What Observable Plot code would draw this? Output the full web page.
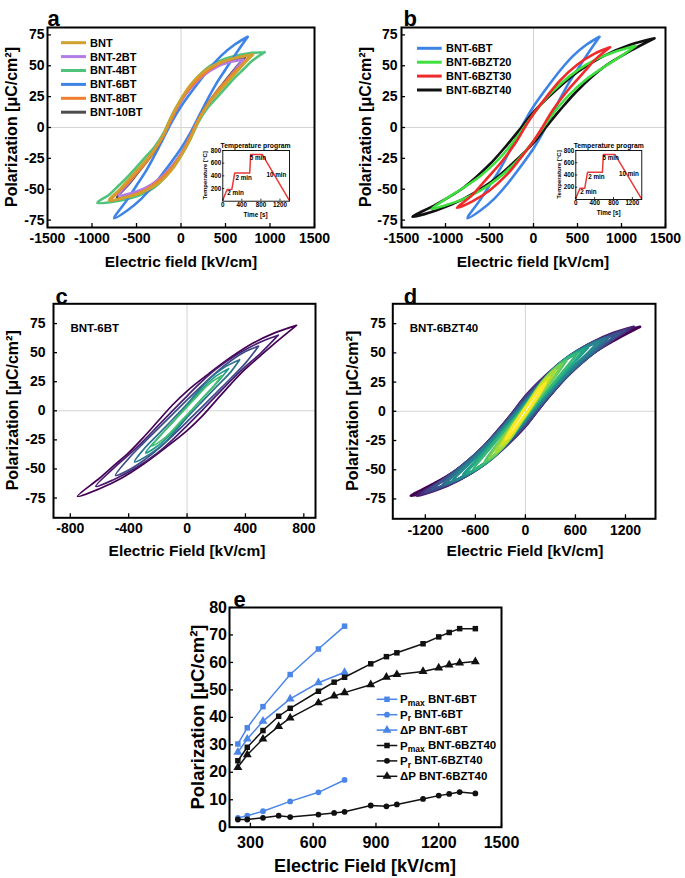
<!DOCTYPE html>
<html>
<head>
<meta charset="utf-8">
<script src="https://cdn.jsdelivr.net/npm/d3@7"></script>
<script src="https://cdn.jsdelivr.net/npm/@observablehq/plot@0.6"></script>
<style>
  html, body { margin: 0; padding: 0; background: white; }
  #page { position: relative; width: 685px; height: 878px; background: white; overflow: hidden;
          font-family: 'Liberation Sans', Arial, Helvetica, sans-serif; font-weight: bold; }
  .panel { position: absolute; }
  .panel svg { display: block; }
</style>
</head>
<body>
<div id="page"></div>
<script>
const FONT = "'Liberation Sans', Arial, Helvetica, sans-serif";

// ---------------- Tick labels ----------------
const ticksABX = [-1500, -1000, -500, 0, 500, 1000, 1500];
const ticksPolY = [-75, -50, -25, 0, 25, 50, 75];
const ticksCX = [-800, -400, 0, 400, 800];
const ticksDX = [-1200, -600, 0, 600, 1200];
const ticksEX = [300, 600, 900, 1200, 1500];
const ticksEY = [0, 10, 20, 30, 40, 50, 60, 70, 80];
const ticksInsetX = [0, 400, 800, 1200];
const ticksInsetY = [200, 400, 600, 800];

// ---------------- Panel a loops (upper branch, E [kV/cm], P [uC/cm2]) ----------------
const namesA = ["BNT", "BNT-2BT", "BNT-4BT", "BNT-6BT", "BNT-8BT", "BNT-10BT"];
const colorsA = ["#cfa12f", "#b27be6", "#4fc37b", "#3d84e6", "#f07f2f", "#4d4d4d"];
const loopBNT = [[810,59],[650,57],[450,53],[250,45],[100,34],[0,23],[-100,10],[-200,-6],[-300,-18],[-400,-27],[-500,-35],[-600,-43],[-700,-51],[-810,-59]];
const loopBNT2BT = [[700,55],[550,53],[400,49],[250,42],[100,31],[0,21],[-100,8],[-200,-7],[-300,-18],[-400,-28],[-500,-37],[-600,-46],[-700,-55]];
const loopBNT4BT = [[940,61],[750,60],[550,57],[350,51],[200,42],[80,31],[0,23],[-100,10],[-200,-5],[-300,-16],[-400,-24],[-500,-32],[-600,-40],[-700,-47],[-800,-54],[-940,-61]];
const loopBNT6BT = [[750,73.5],[600,67],[450,58],[300,46],[150,32],[0,17],[-100,5],[-200,-9],[-300,-23],[-400,-36],[-500,-47],[-600,-58],[-750,-73.5]];
const loopBNT8BT = [[790,59],[600,56],[400,50.5],[250,43],[100,32],[0,22],[-100,8],[-200,-7],[-300,-19],[-400,-29],[-500,-37],[-600,-45],[-700,-52],[-790,-59]];
const loopBNT10BT = [[720,57],[550,54.5],[400,51],[250,44],[100,33],[0,22],[-100,9],[-200,-7],[-300,-19],[-400,-29],[-500,-38],[-600,-47],[-720,-57]];
const loopsA = [loopBNT, loopBNT2BT, loopBNT4BT, loopBNT6BT, loopBNT8BT, loopBNT10BT];
const drawOrderA = [2, 3, 5, 1, 4, 0];

// ---------------- Panel b loops ----------------
const namesB = ["BNT-6BT", "BNT-6BZT20", "BNT-6BZT30", "BNT-6BZT40"];
const colorsB = ["#3d84e6", "#3ee03e", "#ee2a2a", "#111111"];
const loopBZT20 = [[1160,66],[1000,63],[800,58],[600,51],[400,41],[200,28],[100,20],[0,11],[-100,1],[-200,-9],[-300,-18],[-400,-26],[-600,-39],[-800,-49],[-1000,-58],[-1160,-66]];
const loopBZT30 = [[870,65],[700,60],[500,51],[300,38],[150,25],[0,11],[-100,0],[-200,-12],[-300,-22],[-400,-31],[-500,-39],[-600,-47],[-700,-55],[-870,-65]];
const loopBZT40 = [[1375,72.3],[1100,67],[800,58],[500,45],[250,30],[0,12.5],[-150,-1],[-300,-14],[-500,-30],[-800,-49],[-1100,-62],[-1375,-72.3]];
const loopsB = [loopBNT6BT, loopBZT20, loopBZT30, loopBZT40];
const drawOrderB = [0, 3, 1, 2];

// ---------------- Panel c: BNT-6BT at several fields ----------------
const loopsC = [
  loopBNT6BT,
  [[625,65],[500,59],[350,49],[200,36],[100,25],[0,12.7],[-100,0],[-200,-13],[-300,-26],[-400,-38],[-500,-49],[-625,-65]],
  [[490,55.6],[400,51],[300,43],[200,33],[100,21.5],[0,9.4],[-100,-3],[-200,-15.5],[-300,-28],[-400,-41],[-490,-55.6]],
  [[360,43.9],[250,37],[150,27],[50,13],[0,5.8],[-100,-7.5],[-200,-20.5],[-300,-33.5],[-360,-43.9]],
  [[285,36.2],[200,30],[100,18.5],[0,4.2],[-100,-10],[-200,-23.5],[-285,-36.2]],
  [[240,30.3],[150,23],[50,10],[0,3.4],[-100,-10],[-170,-19.5],[-240,-30.3]]
];
const shadesC = [0.0, 0.08, 0.22, 0.38, 0.55, 0.7];

// ---------------- Panel d: BNT-6BZT40 at several fields ----------------
const loopsD = [
  loopBZT40,
  [[1300,72.3],[1050,67],[800,59],[500,46],[250,31],[0,13],[-150,-1],[-300,-14],[-500,-30],[-800,-49],[-1050,-61],[-1300,-72.3]],
  [[1250,70.9],[1000,65],[750,57],[500,45.5],[250,30.5],[0,12.3],[-150,-1],[-300,-14],[-500,-30],[-750,-46],[-1000,-59],[-1250,-70.9]],
  [[1200,69.3],[950,63],[700,55],[450,43],[250,30],[0,11.7],[-150,-1.5],[-300,-14.5],[-500,-30],[-700,-43],[-950,-57],[-1200,-69.3]],
  [[1125,66.8],[900,61],[650,53],[400,40.5],[200,26],[0,10.5],[-150,-2.5],[-300,-15],[-500,-30.5],[-700,-43],[-900,-55],[-1125,-66.8]],
  [[1000,63.5],[800,58],[600,50],[400,39.5],[200,25],[0,8.5],[-150,-4],[-300,-16],[-500,-31],[-700,-44],[-850,-53],[-1000,-63.5]],
  [[950,62.1],[750,56],[550,48],[350,36.5],[200,25],[0,7.8],[-150,-4.5],[-300,-16.5],[-500,-31.5],[-650,-42],[-800,-51],[-950,-62.1]],
  [[875,59.5],[700,54],[500,45.5],[300,33.5],[150,21],[0,8.1],[-150,-4.5],[-300,-17],[-450,-29],[-600,-40],[-750,-50],[-875,-59.5]],
  [[750,54.6],[600,50],[450,42.5],[300,32.5],[150,19.5],[0,5.8],[-150,-7],[-300,-19],[-450,-31],[-600,-43],[-750,-54.6]],
  [[700,52.8],[550,48],[400,40],[250,29],[100,15],[0,5.4],[-150,-7.5],[-300,-20],[-450,-32],[-580,-42],[-700,-52.8]],
  [[625,49.5],[500,45],[350,36.5],[200,25],[100,15],[0,4.8],[-150,-8.5],[-300,-21],[-450,-34],[-625,-49.5]],
  [[490,43.3],[380,38],[250,29],[120,16],[0,3.9],[-120,-7.5],[-250,-20],[-380,-32],[-490,-43.3]],
  [[435,40.4],[330,35],[200,25],[100,14.5],[0,4.4],[-120,-7.5],[-250,-20],[-350,-30],[-435,-40.4]],
  [[360,35.2],[270,30],[150,20],[50,9],[0,3.6],[-100,-7],[-200,-17.5],[-290,-27],[-360,-35.2]],
  [[285,29.1],[200,23.5],[100,13.5],[0,3],[-100,-7.5],[-200,-18.5],[-285,-29.1]],
  [[240,24.2],[150,17.5],[50,7.5],[0,3],[-100,-7.5],[-170,-15],[-240,-24.2]]
];

// ---------------- Panel e ----------------
const field6BT = [240, 285, 360, 490, 625, 750];
const pmax6BT = [30.3, 36.2, 43.9, 55.6, 64.9, 73.2];
const pr6BT = [3.4, 4.2, 5.8, 9.4, 12.7, 17.2];
const dp6BT = [27.3, 32.1, 38.6, 46.7, 52.6, 56.4];
const field40 = [240, 285, 360, 435, 490, 625, 700, 750, 875, 950, 1000, 1125, 1200, 1250, 1300, 1375];
const pmax40 = [24.2, 29.1, 35.2, 40.4, 43.3, 49.5, 52.8, 54.6, 59.5, 62.1, 63.5, 66.8, 69.3, 70.9, 72.3, 72.3];
const pr40 = [2.8, 2.8, 3.4, 4.2, 3.7, 4.6, 5.2, 5.6, 7.9, 7.6, 8.3, 10.3, 11.5, 12.1, 12.8, 12.3];
const dp40 = [21.8, 26.4, 32.1, 36.7, 39.8, 45.3, 47.8, 49.0, 51.9, 54.6, 55.6, 56.7, 58.0, 59.1, 59.8, 60.3];
const blueE = "#4a86e8", blackE = "#111111";

// ---------------- Inset: temperature program ----------------
const progTime = [0, 90, 190, 250, 565, 585, 830, 1390];
const progTemp = [20, 185, 185, 445, 445, 735, 735, 20];
const progNotes = [
  {t: 95, T: 130, label: "2 min"},
  {t: 265, T: 365, label: "2 min"},
  {t: 565, T: 680, label: "5 min"},
  {t: 915, T: 420, label: "10 min"}
];

// ---------------- Axis titles ----------------
const titleP = "Polarization [μC/cm²]";
const titleEa = "Electric field [kV/cm]";
const titleEc = "Electric Field [kV/cm]";

// ---------------- helpers ----------------
function mkLoop(upper) {
  const lower = upper.map(([e, p]) => [-e, -p]);
  return upper.concat(lower.slice(1)).map(([e, p]) => ({e, p}));
}
const page = document.getElementById("page");
function place(el, left, top) {
  const d = document.createElement("div");
  d.className = "panel";
  d.style.left = left + "px";
  d.style.top = top + "px";
  d.appendChild(el);
  page.appendChild(d);
}
const baseStyle = {background: "transparent", fontFamily: FONT, fontWeight: "bold", color: "black", overflow: "visible"};

function hysteresis(cfg) {
  const fw = cfg.width - cfg.ml - cfg.mr, fh = cfg.height - cfg.mt - cfg.mb;
  const marks = [
    Plot.ruleX([0], {stroke: "#d4d4d4", strokeWidth: 1}),
    Plot.ruleY([0], {stroke: "#d4d4d4", strokeWidth: 1}),
    ...cfg.loops.map(L => Plot.line(mkLoop(L.data), {x: "e", y: "p", stroke: L.color, strokeWidth: L.sw, curve: "catmull-rom"})),
    Plot.tickX(cfg.xticks, {x: d => d, insetTop: fh - 4, stroke: "black", strokeWidth: 1.3}),
    Plot.tickY(ticksPolY, {y: d => d, insetRight: fw - 4, stroke: "black", strokeWidth: 1.3}),
    Plot.axisX(cfg.xticks, {tickSize: 0, tickPadding: cfg.xPad, tickFormat: d => String(d), fontSize: 14, fontWeight: "bold", label: null}),
    Plot.axisY(ticksPolY, {tickSize: 0, tickPadding: cfg.yPad, tickFormat: d => String(d), fontSize: 14, fontWeight: "bold", label: null}),
    Plot.frame({stroke: "black", strokeWidth: 2}),
    Plot.text([cfg.letter], {frameAnchor: "top-left", dx: cfg.letterDx, dy: cfg.letterDy, textAnchor: "start", fontSize: 22, fontWeight: "bold"})
  ];
  if (cfg.note) marks.push(Plot.text([cfg.note], {frameAnchor: "top-left", dx: 17, dy: 20, textAnchor: "start", fontSize: 11.5, fontWeight: "bold"}));
  return Plot.plot({
    width: cfg.width, height: cfg.height,
    marginLeft: cfg.ml, marginRight: cfg.mr, marginTop: cfg.mt, marginBottom: cfg.mb,
    style: baseStyle,
    x: {domain: cfg.xdom}, y: {domain: cfg.ydom},
    marks
  });
}

function inset(w, h, ml, mr, mt, mb) {
  const fw = w - ml - mr, fh = h - mt - mb;
  const rows = progTime.map((t, i) => ({t, T: progTemp[i]}));
  return Plot.plot({
    width: w, height: h, marginLeft: ml, marginRight: mr, marginTop: mt, marginBottom: mb,
    style: {...baseStyle, background: "transparent"},
    x: {domain: [0, 1400]}, y: {domain: [0, 800]},
    marks: [
      Plot.line(rows, {x: "t", y: "T", stroke: "#e83a3a", strokeWidth: 1.5}),
      Plot.text(progNotes, {x: "t", y: "T", text: "label", textAnchor: "start", fontSize: 6.3, fontWeight: "bold"}),
      Plot.tickX(ticksInsetX, {x: d => d, insetTop: fh - 2, stroke: "black", strokeWidth: 0.8}),
      Plot.tickY(ticksInsetY, {y: d => d, insetRight: fw - 2, stroke: "black", strokeWidth: 0.8}),
      Plot.axisX(ticksInsetX, {tickSize: 0, tickPadding: 1.5, tickFormat: d => String(d), fontSize: 6.3, fontWeight: "bold", label: null}),
      Plot.axisY(ticksInsetY, {tickSize: 0, tickPadding: 1.5, tickFormat: d => String(d), fontSize: 6.3, fontWeight: "bold", label: null}),
      Plot.frame({stroke: "black", strokeWidth: 0.9})
    ]
  });
}

// ---------------- Panel a ----------------
place(hysteresis({
  width: 340, height: 280, ml: 47, mr: 26, mt: 27, mb: 53,
  xdom: [-1500, 1500], ydom: [-81, 81], xticks: ticksABX,
  loops: drawOrderA.map(i => ({data: loopsA[i], color: colorsA[i], sw: 2.6})),
  letter: "a", letterDx: 0, letterDy: -17, xPad: 6, yPad: 3
}), 0, 0);
place(inset(100, 92, 27.3, 6, 12, 29.3), 195, 138);

// ---------------- Panel b ----------------
place(hysteresis({
  width: 345, height: 280, ml: 61, mr: 20, mt: 27, mb: 53,
  xdom: [-1500, 1500], ydom: [-81, 81], xticks: ticksABX,
  loops: drawOrderB.map(i => ({data: loopsB[i], color: colorsB[i], sw: 2.6})),
  letter: "b", letterDx: 2, letterDy: -17, xPad: 6, yPad: 4
}), 340, 0);
place(inset(99.3, 92, 27.3, 6, 12, 31), 548.4, 138);

// ---------------- Panel c ----------------
place(hysteresis({
  width: 340, height: 290, ml: 53, mr: 25, mt: 23.3, mb: 52.7,
  xdom: [-915, 880], ydom: [-92, 92], xticks: ticksCX,
  loops: loopsC.map((d, i) => ({data: d, color: d3.interpolateViridis(shadesC[i]), sw: 1.7})),
  letter: "c", letterDx: 2, letterDy: -15, note: "BNT-6BT", xPad: 5, yPad: 8
}), 0, 280);

// ---------------- Panel d ----------------
place(hysteresis({
  width: 345, height: 290, ml: 52.3, mr: 30, mt: 23.3, mb: 51.7,
  xdom: [-1590, 1560], ydom: [-92, 92], xticks: ticksDX,
  loops: loopsD.map((d, i) => ({data: d, color: d3.interpolateViridis(i / (loopsD.length - 1)), sw: 2.6})),
  letter: "d", letterDx: 11, letterDy: -15, note: "BNT-6BZT40", xPad: 6, yPad: 7
}), 340, 280);

// ---------------- Panel e ----------------
(function () {
  const W = 360, H = 313, ml = 69, mr = 19, mt = 42, mb = 51.3;
  const fw = W - ml - mr, fh = H - mt - mb;
  const series = [
    {E: field6BT, P: pmax6BT, color: blueE, symbol: "square", r: 3.1},
    {E: field6BT, P: pr6BT, color: blueE, symbol: "circle", r: 2.9},
    {E: field6BT, P: dp6BT, color: blueE, symbol: "triangle", r: 3.3},
    {E: field40, P: pmax40, color: blackE, symbol: "square", r: 3.1},
    {E: field40, P: pr40, color: blackE, symbol: "circle", r: 2.9},
    {E: field40, P: dp40, color: blackE, symbol: "triangle", r: 3.3}
  ];
  const marks = [];
  series.forEach(s => {
    const rows = s.E.map((e, i) => ({e, p: s.P[i]}));
    marks.push(Plot.line(rows, {x: "e", y: "p", stroke: s.color, strokeWidth: 1.5}));
    marks.push(Plot.dot(rows, {x: "e", y: "p", fill: s.color, symbol: s.symbol, r: s.r, stroke: "none"}));
  });
  marks.push(
    Plot.tickX(ticksEX, {x: d => d, insetTop: fh - 4, stroke: "black", strokeWidth: 1.3}),
    Plot.tickY(ticksEY, {y: d => d, insetRight: fw - 4, stroke: "black", strokeWidth: 1.3}),
    Plot.axisX(ticksEX, {tickSize: 0, tickPadding: 9, tickFormat: d => String(d), fontSize: 16, fontWeight: "bold", label: null}),
    Plot.axisY(ticksEY, {tickSize: 0, tickPadding: 2.5, tickFormat: d => String(d), fontSize: 16, fontWeight: "bold", label: null}),
    Plot.frame({stroke: "black", strokeWidth: 2}),
    Plot.text(["e"], {frameAnchor: "top-left", dx: 4, dy: -16, textAnchor: "start", fontSize: 22, fontWeight: "bold"})
  );
  place(Plot.plot({
    width: W, height: H, marginLeft: ml, marginRight: mr, marginTop: mt, marginBottom: mb,
    style: baseStyle, x: {domain: [200, 1500]}, y: {domain: [0, 80]}, marks
  }), 160, 565);
})();

// ---------------- Overlay: titles and legends ----------------
const ov = d3.select(page).append("svg")
  .attr("width", 685).attr("height", 878)
  .style("position", "absolute").style("left", "0px").style("top", "0px")
  .style("pointer-events", "none")
  .style("font-family", FONT).style("font-weight", "bold");

function hTitle(text, x, y, fs) {
  ov.append("text").attr("x", x).attr("y", y).attr("dy", "0.35em").attr("text-anchor", "middle")
    .attr("font-size", fs).text(text);
}
function vTitle(text, x, y, fs) {
  ov.append("text").attr("transform", `translate(${x},${y}) rotate(-90)`).attr("dy", "0.35em")
    .attr("text-anchor", "middle").attr("font-size", fs).text(text);
}
hTitle(titleEa, 181, 261.5, 15.5);
hTitle(titleEa, 533, 261.5, 15.5);
hTitle(titleEc, 187, 551, 15.5);
hTitle(titleEc, 525, 551, 15.5);
hTitle(titleEc, 365, 866, 18);
vTitle(titleP, 11, 127, 16);
vTitle(titleP, 365, 127, 16);
vTitle(titleP, 12, 410.3, 16);
vTitle(titleP, 352, 410.8, 16);
vTitle(titleP, 198, 717, 18.5);

// inset titles
[[255.6, 288.6, 221.8, 200.7, 175.4], [608.7, 641.7, 575.7, 199, 174.5]].forEach(([cx, right, left, bottom, cy]) => {
  ov.append("text").attr("x", cx).attr("y", 145.5).attr("dy", "0.35em").attr("text-anchor", "middle")
    .attr("font-size", 6.8).text("Temperature program");
  ov.append("text").attr("x", cx).attr("y", bottom + 14).attr("dy", "0.35em").attr("text-anchor", "middle")
    .attr("font-size", 6.3).text("Time [s]");
  ov.append("text").attr("transform", `translate(${left - 17},${cy}) rotate(-90)`).attr("dy", "0.35em")
    .attr("text-anchor", "middle").attr("font-size", 6).text("Temperature [°C]");
});

function lineLegend(names, colors, x0, x1, tx, y0, step, sw) {
  names.forEach((n, i) => {
    const y = y0 + i * step;
    ov.append("line").attr("x1", x0).attr("x2", x1).attr("y1", y).attr("y2", y)
      .attr("stroke", colors[i]).attr("stroke-width", sw);
    ov.append("text").attr("x", tx).attr("y", y).attr("dy", "0.36em")
      .attr("font-size", 11).text(n);
  });
}
lineLegend(namesA, colorsA, 61, 86, 90, 42.7, 13.9, 3);
lineLegend(namesB, colorsB, 417, 441.7, 446, 48.3, 13.9, 3);

const legendE = [
  {pre: "P", sub: "max", post: " BNT-6BT", color: blueE, symbol: d3.symbolSquare, r: 3.1},
  {pre: "P", sub: "r", post: " BNT-6BT", color: blueE, symbol: d3.symbolCircle, r: 2.9},
  {pre: "ΔP", sub: "", post: " BNT-6BT", color: blueE, symbol: d3.symbolTriangle, r: 3.3},
  {pre: "P", sub: "max", post: " BNT-6BZT40", color: blackE, symbol: d3.symbolSquare, r: 3.1},
  {pre: "P", sub: "r", post: " BNT-6BZT40", color: blackE, symbol: d3.symbolCircle, r: 2.9},
  {pre: "ΔP", sub: "", post: " BNT-6BZT40", color: blackE, symbol: d3.symbolTriangle, r: 3.3}
];
legendE.forEach((it, i) => {
  const y = 699.3 + i * 15.4;
  ov.append("line").attr("x1", 376.7).attr("x2", 397.3).attr("y1", y).attr("y2", y)
    .attr("stroke", it.color).attr("stroke-width", 1.5);
  ov.append("path").attr("transform", `translate(387,${y})`)
    .attr("d", d3.symbol(it.symbol, Math.PI * it.r * it.r)()).attr("fill", it.color);
  const t = ov.append("text").attr("x", 400).attr("y", y).attr("dy", "0.36em").attr("font-size", 11.5);
  t.append("tspan").text(it.pre);
  if (it.sub) t.append("tspan").attr("font-size", 8.5).attr("dy", "0.3em").text(it.sub);
  t.append("tspan").attr("dy", it.sub ? "-0.3em" : null).text(it.post);
});
</script>
</body>
</html>
